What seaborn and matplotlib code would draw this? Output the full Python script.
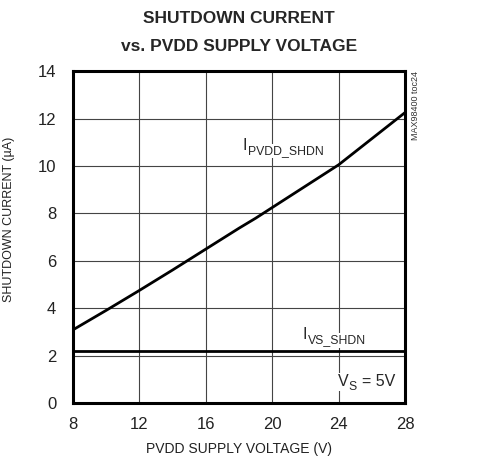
import matplotlib
matplotlib.use("Agg")
import matplotlib.pyplot as plt
import seaborn as sns
import pandas as pd

# values
pvdd_volts = [8, 10, 12, 14, 16, 18, 19, 20, 22, 24, 26, 28]
i_pvdd_shdn = [3.1, 3.92, 4.76, 5.62, 6.5, 7.38, 7.8, 8.25, 9.15, 10.05, 11.15, 12.25]
vs_volts = [8, 28]
i_vs_shdn = [2.2, 2.2]

x_ticks = [8, 12, 16, 20, 24, 28]
y_ticks = [0, 2, 4, 6, 8, 10, 12, 14]

sns.set_style("white")
plt.rcParams["font.family"] = ["Liberation Sans", "DejaVu Sans"]

df = pd.concat([
    pd.DataFrame({"v": pvdd_volts, "i": i_pvdd_shdn, "s": "IPVDD_SHDN"}),
    pd.DataFrame({"v": vs_volts, "i": i_vs_shdn, "s": "IVS_SHDN"}),
])

fig = plt.figure(figsize=(4.82, 4.76), dpi=100)
ax = fig.add_axes([0.1515, 0.1525, 0.6888, 0.6983])

sns.lineplot(data=df, x="v", y="i", hue="s", palette=["black", "black"],
             linewidth=2.0, legend=False, ax=ax, zorder=3)

ax.set_xlim(8, 28)
ax.set_ylim(0, 14)
ax.set_xticks(x_ticks)
ax.set_yticks(y_ticks)
ax.grid(True, color="#444444", linewidth=0.8)
ax.tick_params(axis="both", length=0, labelsize=12, colors="#222222")
ax.tick_params(axis="x", pad=10)
ax.tick_params(axis="y", pad=12)
for sp in ax.spines.values():
    sp.set_linewidth(2.2)
    sp.set_color("black")
    sp.set_zorder(4)

ax.set_xlabel("PVDD SUPPLY VOLTAGE (V)", fontsize=10, color="#222222", labelpad=7)
ax.set_ylabel("SHUTDOWN CURRENT (µA)", fontsize=9, color="#222222")
ax.yaxis.set_label_coords(-0.175, 0.555)

fig.suptitle("SHUTDOWN CURRENT\nvs. PVDD SUPPLY VOLTAGE", x=0.495, y=0.976,
             fontsize=12.5, fontweight="bold", linespacing=2.05)

box = dict(facecolor="white", edgecolor="none", pad=1.0)

# curve labels
ax.text(18.2, 10.68, "I", fontsize=11.5, ha="left", va="baseline", bbox=box, zorder=5)
ax.annotate("PVDD_SHDN", xy=(18.2, 10.68), xytext=(4, -3), textcoords="offset points",
            fontsize=8.8, ha="left", va="baseline", bbox=box, zorder=5)

ax.text(21.82, 2.71, "I", fontsize=11.5, ha="left", va="baseline", bbox=box, zorder=5)
ax.annotate("VS_SHDN", xy=(21.82, 2.71), xytext=(4, -3), textcoords="offset points",
            fontsize=8.8, ha="left", va="baseline", bbox=box, zorder=5)

ax.text(23.96, 0.73, "V", fontsize=11.5, ha="left", va="baseline", bbox=box, zorder=5)
ax.annotate("S", xy=(23.96, 0.73), xytext=(7.5, -3), textcoords="offset points",
            fontsize=8.8, ha="left", va="baseline", bbox=box, zorder=5)
ax.annotate("= 5V", xy=(23.96, 0.73), xytext=(17, 0), textcoords="offset points",
            fontsize=11.5, ha="left", va="baseline", bbox=box, zorder=5)

fig.text(0.862, 0.85, "MAX98400 toc24", rotation=90, fontsize=6.5,
         ha="center", va="top", color="#333333")

plt.savefig("out.png", dpi=100)
